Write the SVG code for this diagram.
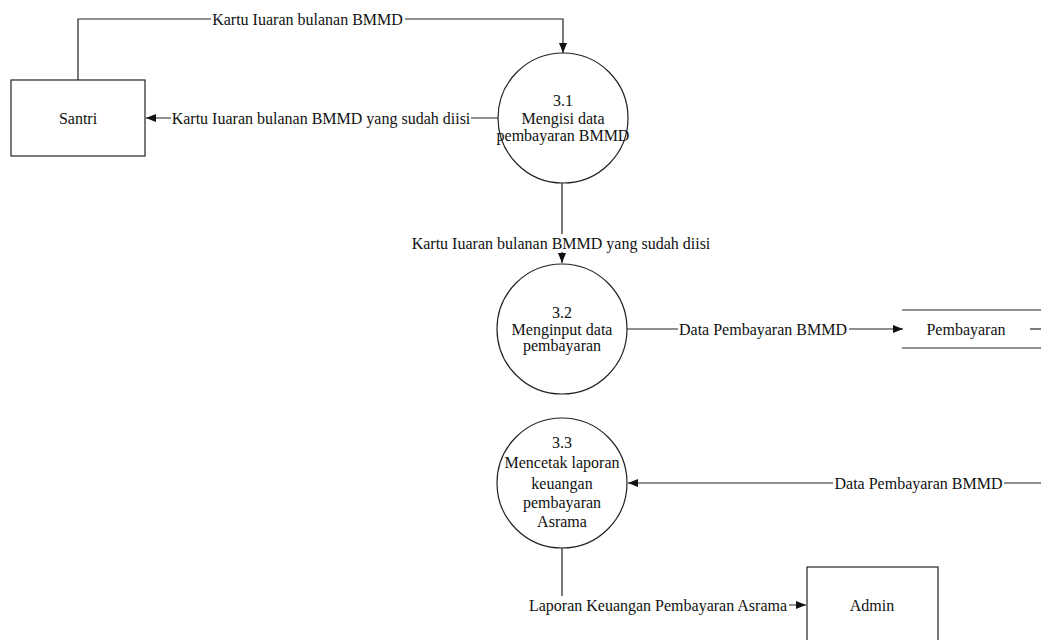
<svg xmlns="http://www.w3.org/2000/svg" width="1041" height="640" viewBox="0 0 1041 640">
<defs>
<style>
text{font-family:"Liberation Serif","Times New Roman",serif;font-size:16px;fill:#111;text-anchor:middle}
.ln{fill:none;stroke:#222;stroke-width:1.2}
.nd{fill:#fff;stroke:#222;stroke-width:1.2}
.bg{fill:#fff;stroke:none}
</style>
<marker id="ah" viewBox="0 0 10 10" refX="10" refY="5" markerWidth="10" markerHeight="10" markerUnits="userSpaceOnUse" orient="auto">
<path d="M0,1 L10,5 L0,9 z" fill="#111"/>
</marker>
</defs>
<rect width="1041" height="640" fill="#fff"/>
<g id="connectors">
<path class="ln" d="M78,80 V19 H563 V53" marker-end="url(#ah)"/>
<rect class="bg" x="211" y="10" width="194" height="18"/>
<text x="307.5" y="24.5">Kartu Iuaran bulanan BMMD</text>
<path class="ln" d="M498,118 H146" marker-end="url(#ah)"/>
<rect class="bg" x="171" y="109" width="300" height="18"/>
<text x="321" y="123.5">Kartu Iuaran bulanan BMMD yang sudah diisi</text>
<path class="ln" d="M562,183 V263" marker-end="url(#ah)"/>
<rect class="bg" x="411" y="234" width="300" height="18"/>
<text x="561" y="248.5">Kartu Iuaran bulanan BMMD yang sudah diisi</text>
<path class="ln" d="M627,329 H903" marker-end="url(#ah)"/>
<rect class="bg" x="678" y="320" width="171" height="18"/>
<text x="763" y="334.5">Data Pembayaran BMMD</text>
<path class="ln" d="M1030,329 H1041"/>
<path class="ln" d="M1041,483 H628" marker-end="url(#ah)"/>
<rect class="bg" x="833" y="474" width="171" height="18"/>
<text x="918.5" y="488.5">Data Pembayaran BMMD</text>
<path class="ln" d="M562,548 V605 H806" marker-end="url(#ah)"/>
<rect class="bg" x="526" y="596" width="263" height="18"/>
<text x="658" y="610.5">Laporan Keuangan Pembayaran Asrama</text>
</g>
<g id="santri">
<rect class="nd" x="11" y="80" width="134" height="76"/>
<text x="78" y="123.5">Santri</text>
</g>
<g id="p31">
<circle class="nd" cx="563" cy="118" r="65"/>
<text x="563" y="106">3.1</text>
<text x="563" y="123.5">Mengisi data</text>
<text x="563" y="141">pembayaran BMMD</text>
</g>
<g id="p32">
<circle class="nd" cx="562" cy="329" r="65"/>
<text x="562" y="318">3.2</text>
<text x="562" y="334.5">Menginput data</text>
<text x="562" y="351">pembayaran</text>
</g>
<g id="store">
<path class="ln" d="M902,310 H1041 M902,348 H1041"/>
<text x="966" y="334.5">Pembayaran</text>
</g>
<g id="p33">
<circle class="nd" cx="562" cy="483" r="65"/>
<text x="562" y="448">3.3</text>
<text x="562" y="468">Mencetak laporan</text>
<text x="562" y="488.5">keuangan</text>
<text x="562" y="508">pembayaran</text>
<text x="562" y="527">Asrama</text>
</g>
<g id="admin">
<rect class="nd" x="807" y="567" width="131" height="80"/>
<text x="872" y="610.5">Admin</text>
</g>
</svg>
